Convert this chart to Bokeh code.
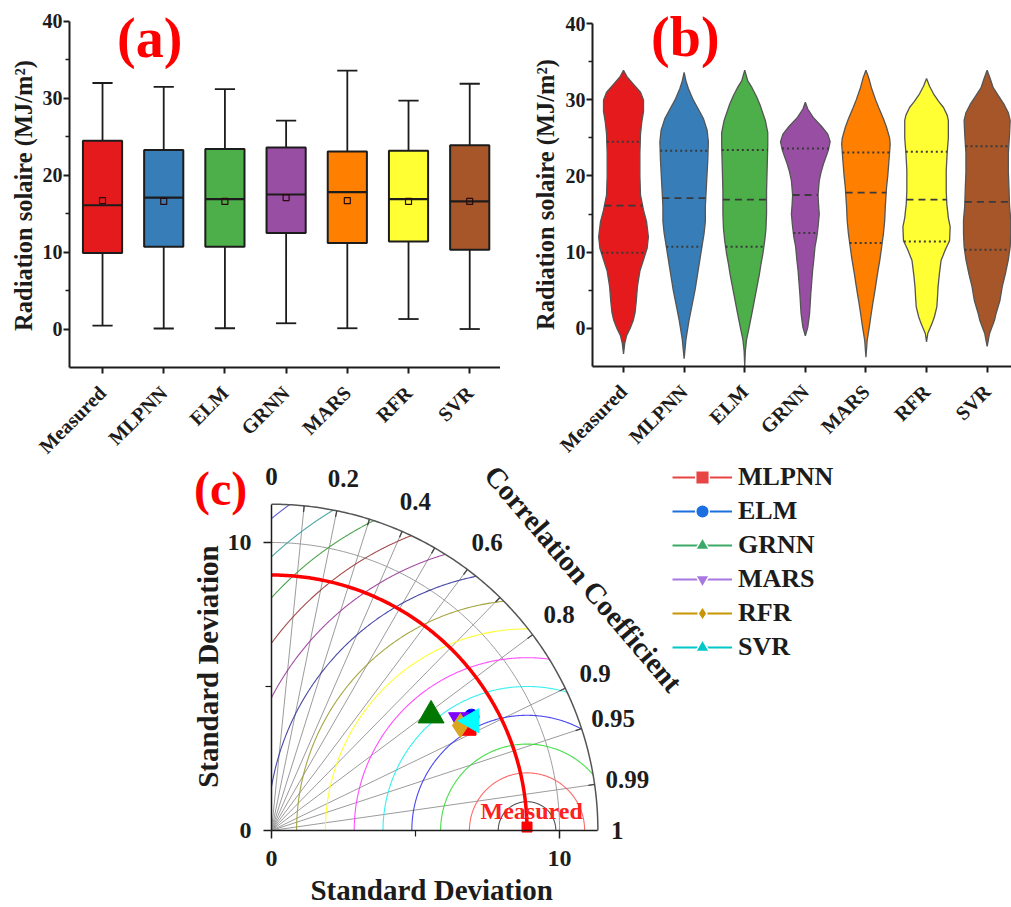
import math
import numpy as np
from bokeh.plotting import figure
from bokeh.models import Range1d, FixedTicker, Label, Legend, LegendItem
from bokeh.layouts import column, row
from bokeh.embed import file_html
from bokeh.resources import INLINE

# ---------------- data ----------------
categories = ["Measured", "MLPNN", "ELM", "GRNN", "MARS", "RFR", "SVR"]
colors = ["#E41A1C", "#377EB8", "#4DAF4A", "#984EA3", "#FF7F00", "#FFFF33", "#A65628"]

whisker_low = [0.45, 0.07, 0.1, 0.75, 0.1, 1.3, 0.0]
q1 = [9.9, 10.7, 10.7, 12.5, 11.2, 11.4, 10.3]
median = [16.1, 17.1, 16.9, 17.5, 17.8, 16.9, 16.6]
mean = [16.7, 16.6, 16.6, 17.1, 16.7, 16.6, 16.6]
q3 = [24.5, 23.3, 23.4, 23.6, 23.1, 23.2, 23.9]
whisker_high = [32.0, 31.5, 31.2, 27.1, 33.6, 29.7, 31.9]

# violin outlines: levels (MJ/m2) and half-widths (category units)
violin_y_measured = [33.9, 33.0, 32.0, 31.0, 30.0, 28.5, 27.0, 25.5, 23.0, 20.0, 17.5, 15.5, 14.0, 12.0, 10.5, 9.0, 7.5, 5.5, 3.5, 2.0, 1.0, 0.0, -1.0, -2.0, -3.4]
violin_w_measured = [0.0, 0.06, 0.17, 0.28, 0.33, 0.33, 0.30, 0.28, 0.27, 0.27, 0.28, 0.33, 0.38, 0.41, 0.39, 0.33, 0.27, 0.23, 0.21, 0.19, 0.16, 0.11, 0.05, 0.02, 0.0]
violin_y_mlpnn = [33.6, 32.5, 31.5, 30.0, 29.0, 27.5, 26.0, 24.5, 22.0, 19.0, 16.0, 14.0, 12.5, 11.0, 9.0, 7.0, 5.0, 3.0, 1.0, 0.0, -1.5, -4.0]
violin_w_mlpnn = [0.0, 0.03, 0.07, 0.15, 0.22, 0.32, 0.38, 0.40, 0.39, 0.37, 0.35, 0.35, 0.33, 0.30, 0.26, 0.22, 0.18, 0.13, 0.08, 0.06, 0.03, 0.0]
violin_y_elm = [33.9, 32.5, 31.6, 30.5, 29.4, 27.3, 25.7, 24.0, 21.0, 18.0, 15.0, 13.0, 11.5, 9.8, 8.5, 7.0, 4.5, 2.0, 0.0, -1.5, -3.0, -5.0]
violin_w_elm = [0.0, 0.05, 0.12, 0.19, 0.25, 0.34, 0.38, 0.38, 0.37, 0.36, 0.36, 0.35, 0.33, 0.30, 0.27, 0.24, 0.18, 0.12, 0.07, 0.03, 0.01, 0.0]
violin_y_grnn = [29.7, 28.8, 27.7, 26.5, 25.5, 24.5, 23.4, 22.5, 21.6, 20.5, 19.4, 17.5, 16.0, 15.0, 13.3, 12.0, 10.7, 9.0, 7.6, 4.5, 1.9, 0.1, -1.0]
violin_w_grnn = [0.0, 0.04, 0.13, 0.27, 0.37, 0.41, 0.38, 0.34, 0.30, 0.26, 0.23, 0.21, 0.22, 0.23, 0.21, 0.19, 0.16, 0.14, 0.12, 0.09, 0.07, 0.04, 0.0]
violin_y_mars = [33.9, 32.8, 31.6, 30.0, 29.0, 27.5, 26.4, 25.0, 24.2, 22.0, 20.0, 18.5, 16.0, 14.2, 12.5, 10.7, 9.0, 7.1, 5.0, 3.6, 1.5, 0.1, -1.6, -3.8]
violin_w_mars = [0.0, 0.05, 0.09, 0.16, 0.21, 0.29, 0.34, 0.39, 0.40, 0.38, 0.36, 0.34, 0.32, 0.31, 0.29, 0.26, 0.23, 0.19, 0.15, 0.12, 0.08, 0.055, 0.02, 0.0]
violin_y_rfr = [32.8, 31.8, 30.8, 29.8, 29.0, 28.0, 27.3, 25.0, 23.0, 20.7, 18.0, 16.3, 14.5, 13.3, 11.5, 10.3, 8.9, 7.0, 5.4, 4.0, 2.8, 1.5, 0.6, -0.7, -1.8]
violin_w_rfr = [0.0, 0.05, 0.115, 0.20, 0.28, 0.34, 0.36, 0.36, 0.34, 0.325, 0.325, 0.335, 0.36, 0.39, 0.38, 0.31, 0.24, 0.21, 0.19, 0.18, 0.17, 0.13, 0.09, 0.02, 0.0]
violin_y_svr = [33.9, 32.8, 31.6, 30.5, 29.4, 28.3, 27.3, 25.5, 23.0, 20.5, 18.5, 16.0, 14.2, 12.5, 10.7, 9.0, 7.1, 5.5, 3.6, 2.0, 1.0, -0.7, -2.4]
violin_w_svr = [0.0, 0.05, 0.10, 0.19, 0.28, 0.35, 0.38, 0.37, 0.35, 0.35, 0.36, 0.37, 0.39, 0.39, 0.38, 0.35, 0.30, 0.25, 0.21, 0.15, 0.12, 0.04, 0.0]

violin_levels = [violin_y_measured, violin_y_mlpnn, violin_y_elm, violin_y_grnn, violin_y_mars, violin_y_rfr, violin_y_svr]
violin_widths = [violin_w_measured, violin_w_mlpnn, violin_w_elm, violin_w_grnn, violin_w_mars, violin_w_rfr, violin_w_svr]

# Taylor diagram
models = ["MLPNN", "ELM", "GRNN", "MARS", "RFR", "SVR"]
taylor_sd = [7.72, 7.99, 6.83, 7.57, 7.50, 7.93]
taylor_corr = [0.888, 0.869, 0.811, 0.858, 0.874, 0.877]
measured_sd = 8.87
corr_labels = ["0", "0.2", "0.4", "0.6", "0.8", "0.9", "0.95", "0.99", "1"]
corr_label_values = [0.0, 0.2, 0.4, 0.6, 0.8, 0.9, 0.95, 0.99, 1.0]
corr_grid = [0.1, 0.2, 0.3, 0.4, 0.5, 0.6, 0.7, 0.8, 0.9, 0.95, 0.99]
rms_levels = [1, 2, 3, 4, 5, 6, 7, 8, 9, 10, 11, 12, 13, 14]

# ---------------- styles ----------------
FONT = "Liberation Serif"
INK = "#1c1c1c"
plot_marker = ["square", "circle", "triangle", "inverted_triangle", "diamond", "triangle"]
plot_marker_angle = [0, 0, 0, 0, 0, math.pi / 2]
plot_marker_size = [14, 15, 26, 20, 24, 24]
plot_marker_color = ["#FF0000", "#0000FF", "#007800", "#7F00FF", "#DAA520", "#00FFFF"]
legend_color = ["#E84444", "#1C6FE0", "#3CAA66", "#A878E0", "#C89600", "#00C8C8"]
rms_colors = ["#404040", "#FF5A5A", "#33DD33", "#3434EE", "#22EEEE", "#FF3CFF", "#FFFF22",
              "#9C9C30", "#34349C", "#9A3A9A", "#9A3A3A", "#3A9A3A", "#3A9A9A", "#4A4ACC"]


def base_fig(**kw):
    p = figure(output_backend="svg", toolbar_location=None,
               min_border_left=0, min_border_right=0, min_border_top=0, min_border_bottom=0, **kw)
    p.outline_line_color = None
    p.xgrid.visible = False
    p.ygrid.visible = False
    p.background_fill_color = "white"
    p.border_fill_color = "white"
    return p


def style_axis(ax, tick_px, line_w=2.0, tick_out=6, minor_out=4, label_standoff=2):
    ax.axis_line_color = INK
    ax.axis_line_width = line_w
    ax.major_tick_line_color = INK
    ax.major_tick_line_width = line_w
    ax.minor_tick_line_color = INK
    ax.minor_tick_line_width = line_w * 0.8
    ax.major_tick_in = 0
    ax.major_tick_out = tick_out
    ax.minor_tick_in = 0
    ax.minor_tick_out = minor_out
    ax.major_label_standoff = label_standoff
    ax.major_label_text_font = FONT
    ax.major_label_text_font_style = "bold"
    ax.major_label_text_font_size = tick_px
    ax.major_label_text_color = INK


def text_label(x, y, text, size, color=INK, angle=0.0, align="center"):
    return Label(x=x, y=y, text=text, text_font=FONT, text_font_style="bold", text_font_size=size,
                 text_color=color, angle=angle, angle_units="deg", text_align=align,
                 text_baseline="middle")


xpos = np.arange(1, len(categories) + 1, dtype=float)
overrides = {float(x): c for x, c in zip(xpos, categories)}

# ---------------- panel (a): box plot ----------------
A_X0, A_X1 = -0.667, 7.503
A_Y0, A_Y1 = -17.1, 42.73
pa = base_fig(width=500, height=460, x_range=Range1d(A_X0, A_X1), y_range=Range1d(A_Y0, A_Y1))
cap = 0.165
pa.segment(x0=xpos, y0=whisker_low, x1=xpos, y1=whisker_high, line_color=INK, line_width=1.8)
pa.segment(x0=xpos - cap, y0=whisker_high, x1=xpos + cap, y1=whisker_high, line_color=INK, line_width=1.8)
pa.segment(x0=xpos - cap, y0=whisker_low, x1=xpos + cap, y1=whisker_low, line_color=INK, line_width=1.8)
pa.vbar(x=xpos, width=0.64, bottom=q1, top=q3, fill_color=colors, line_color=INK, line_width=2)
pa.segment(x0=xpos - 0.32, y0=median, x1=xpos + 0.32, y1=median, line_color=INK, line_width=2.2)
pa.scatter(x=xpos, y=mean, marker="square", size=6, fill_color=None, line_color="#2a0a0a", line_width=1.2)

pa.yaxis.ticker = FixedTicker(ticks=[0, 10, 20, 30, 40], minor_ticks=[5, 15, 25, 35])
pa.yaxis.fixed_location = 0.461
pa.yaxis.bounds = (-5, 40)
pa.xaxis.ticker = FixedTicker(ticks=list(xpos), minor_ticks=[])
pa.xaxis.fixed_location = -5
pa.xaxis.bounds = (0.461, A_X1)
pa.xaxis.major_label_overrides = overrides
pa.xaxis.major_label_orientation = math.pi / 4
style_axis(pa.yaxis[0], "20px", label_standoff=1)
style_axis(pa.xaxis[0], "20px", label_standoff=16)
pa.add_layout(text_label(-0.299, 17.37, "Radiation solaire (MJ/m²)", "24.5px", angle=90))
pa.add_layout(text_label(1.77, 37.8, "(a)", "56px", color="#FF0000"))

# ---------------- panel (b): violins ----------------
B_X0, B_X1 = -1.030, 7.402
B_Y0, B_Y1 = -17.39, 43.06
pb = base_fig(width=511, height=460, x_range=Range1d(B_X0, B_X1), y_range=Range1d(B_Y0, B_Y1))
vxs, vys = [], []
q_x0, q_x1, q_y, m_x0, m_x1, m_y = [], [], [], [], [], []
for i, (lv, hw) in enumerate(zip(violin_levels, violin_widths)):
    lv = np.asarray(lv, dtype=float)
    hw = np.asarray(hw, dtype=float)
    c = xpos[i]
    vxs.append(np.concatenate([c - hw, (c + hw)[::-1]]))
    vys.append(np.concatenate([lv, lv[::-1]]))
    for qv in (q1[i], q3[i]):
        w = np.interp(qv, lv[::-1], hw[::-1])
        q_x0.append(c - w); q_x1.append(c + w); q_y.append(qv)
    w = np.interp(median[i], lv[::-1], hw[::-1])
    m_x0.append(c - w); m_x1.append(c + w); m_y.append(median[i])
pb.patches(xs=vxs, ys=vys, fill_color=colors, line_color="#555555", line_width=1.3)
pb.segment(x0=q_x0, y0=q_y, x1=q_x1, y1=q_y, line_color="#3a3a3a", line_width=2, line_dash="2 3")
pb.segment(x0=m_x0, y0=m_y, x1=m_x1, y1=m_y, line_color="#3a3a3a", line_width=1.8, line_dash="7 5")

pb.yaxis.ticker = FixedTicker(ticks=[0, 10, 20, 30, 40], minor_ticks=[5, 15, 25, 35])
pb.yaxis.fixed_location = 0.488
pb.yaxis.bounds = (-5, 40)
pb.xaxis.ticker = FixedTicker(ticks=list(xpos), minor_ticks=[])
pb.xaxis.fixed_location = -5
pb.xaxis.bounds = (0.488, B_X1)
pb.xaxis.major_label_overrides = overrides
pb.xaxis.major_label_orientation = math.pi / 4
style_axis(pb.yaxis[0], "20px", label_standoff=1)
style_axis(pb.xaxis[0], "20px", label_standoff=16)
pb.add_layout(text_label(-0.287, 17.57, "Radiation solaire (MJ/m²)", "24.5px", angle=90))
pb.add_layout(text_label(2.02, 38.2, "(b)", "56px", color="#FF0000"))

# ---------------- panel (c): Taylor diagram ----------------
R_MAX = 11.33
pc = base_fig(width=1011, height=447, x_range=Range1d(-9.41, 25.69), y_range=Range1d(-2.674, 12.847))

phi = np.linspace(0, np.pi / 2, 181)
rad_xs = [[0, R_MAX * c] for c in corr_grid]
rad_ys = [[0, R_MAX * math.sqrt(1 - c * c)] for c in corr_grid]
pc.multi_line(xs=rad_xs, ys=rad_ys, line_color="#9c9c9c", line_width=1)
pc.line(10 * np.cos(phi), 10 * np.sin(phi), line_color="#9c9c9c", line_width=1)
for k, col in zip(rms_levels, rms_colors):
    cmin = (R_MAX ** 2 - measured_sd ** 2 - k ** 2) / (2 * measured_sd * k)
    a0 = math.acos(max(-1.0, min(1.0, cmin)))
    a1 = math.acos(max(-1.0, -measured_sd / k)) if k > measured_sd else math.pi
    a = np.linspace(a0, a1, 240)
    pc.line(measured_sd + k * np.cos(a), k * np.sin(a), line_color=col, line_width=1.1, line_alpha=0.9)
pc.line(R_MAX * np.cos(phi), R_MAX * np.sin(phi), line_color="#555555", line_width=1.5)
tick_xs = [[(R_MAX - 0.22) * c, R_MAX * c] for c in corr_grid]
tick_ys = [[(R_MAX - 0.22) * math.sqrt(1 - c * c), R_MAX * math.sqrt(1 - c * c)] for c in corr_grid]
pc.multi_line(xs=tick_xs, ys=tick_ys, line_color="#444444", line_width=1.3)
pc.line(measured_sd * np.cos(phi), measured_sd * np.sin(phi), line_color="#FF0000", line_width=3.5)
pc.scatter(x=[measured_sd], y=[0.12], marker="square", size=10, fill_color="#FF0000", line_color="#FF0000")

for i, m in enumerate(models):
    sd = taylor_sd[i]
    r = taylor_corr[i]
    pc.scatter(x=[sd * r], y=[sd * math.sqrt(1 - r * r)], marker=plot_marker[i], angle=plot_marker_angle[i],
               size=plot_marker_size[i], fill_color=plot_marker_color[i], line_color=plot_marker_color[i])

items = []
for i, m in enumerate(models):
    lr = pc.line(x=[float("nan")], y=[float("nan")], line_color=legend_color[i], line_width=2)
    sr = pc.scatter(x=[float("nan")], y=[float("nan")], marker=plot_marker[i], angle=plot_marker_angle[i],
                    size=16, fill_color=legend_color[i], line_color="white", line_width=1.5)
    items.append(LegendItem(label=m, renderers=[lr, sr]))
legend = Legend(items=items, location=(672, 243), glyph_width=60, glyph_height=34, label_height=34,
                label_standoff=6, spacing=0, padding=0, margin=0, border_line_color=None,
                background_fill_alpha=0, label_text_font=FONT, label_text_font_style="bold",
                label_text_font_size="26px", label_text_color=INK)
pc.add_layout(legend)

for lab, cv in zip(corr_labels, corr_label_values):
    rr = 12.48
    if lab == "1":
        rr = 12.0
    if lab == "0":
        rr = 12.3
    ang = math.acos(cv)
    pc.add_layout(text_label(rr * math.cos(ang), rr * math.sin(ang), lab, "25px"))
pc.add_layout(text_label(10.83, 8.75, "Correlation Coefficient", "29px", angle=-49.5))
pc.add_layout(text_label(9.03, 0.66, "Measured", "24px", color="#FF2020"))
pc.add_layout(text_label(-1.77, 11.875, "(c)", "48px", color="#FF0000"))
pc.add_layout(text_label(-2.22, 5.69, "Standard Deviation", "29px", angle=90))
pc.add_layout(text_label(5.56, -2.06, "Standard Deviation", "29px"))

pc.xaxis.ticker = FixedTicker(ticks=[0, 10], minor_ticks=[5])
pc.yaxis.ticker = FixedTicker(ticks=[0, 10], minor_ticks=[5])
pc.xaxis.fixed_location = 0
pc.yaxis.fixed_location = 0
pc.xaxis.bounds = (0, R_MAX)
pc.yaxis.bounds = (0, R_MAX)
style_axis(pc.xaxis[0], "24px", line_w=1.5, tick_out=8, minor_out=6, label_standoff=13)
style_axis(pc.yaxis[0], "24px", line_w=1.5, tick_out=8, minor_out=6, label_standoff=12)

layout = column(row(pa, pb), pc)
open("out.html", "w").write(file_html(layout, INLINE, "chart"))
